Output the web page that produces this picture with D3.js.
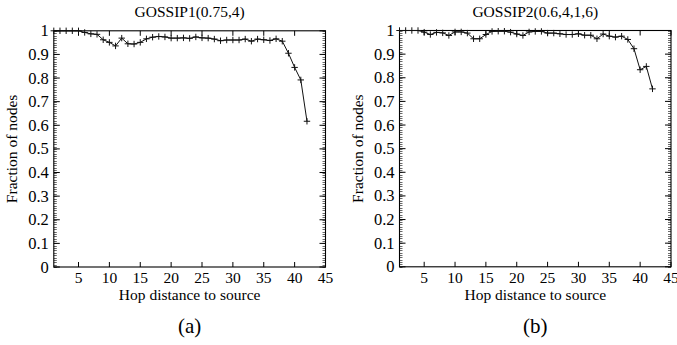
<!DOCTYPE html>
<html>
<head>
<meta charset="utf-8">
<script src="https://cdn.jsdelivr.net/npm/d3@7"></script>
<style>
  html, body { margin: 0; padding: 0; background: #fff; }
  svg { display: block; }
</style>
</head>
<body>
<svg id="chart" width="677" height="345" font-family="'Liberation Serif', 'Times New Roman', Times, serif"></svg>
<script>
// ---- data ----
const hops = [1,2,3,4,5,6,7,8,9,10,11,12,13,14,15,16,17,18,19,20,21,22,23,24,25,26,27,28,29,30,31,32,33,34,35,36,37,38,39,40,41,42];
const gossip1 = [1.0,1.0,1.0,1.0,1.0,0.993,0.987,0.985,0.962,0.951,0.936,0.969,0.945,0.944,0.951,0.966,0.973,0.976,0.974,0.969,0.969,0.970,0.968,0.974,0.970,0.969,0.965,0.958,0.961,0.961,0.961,0.965,0.956,0.965,0.962,0.959,0.966,0.956,0.905,0.845,0.792,0.617];
const gossip2 = [1.0,1.0,1.0,1.0,0.993,0.983,0.992,0.990,0.979,0.994,0.994,0.989,0.965,0.965,0.983,0.996,0.997,0.997,0.993,0.985,0.979,0.994,0.996,0.996,0.989,0.989,0.986,0.983,0.983,0.986,0.980,0.980,0.965,0.985,0.976,0.972,0.976,0.962,0.923,0.834,0.848,0.753];
const titles = ["GOSSIP1(0.75,4)", "GOSSIP2(0.6,4,1,6)"];
const captions = ["(a)", "(b)"];
const xTicks = [5,10,15,20,25,30,35,40,45];
const yTicks = [0,0.1,0.2,0.3,0.4,0.5,0.6,0.7,0.8,0.9,1];
const yTickLabels = ["0","0.1","0.2","0.3","0.4","0.5","0.6","0.7","0.8","0.9","1"];
const xLabel = "Hop distance to source";
const yLabel = "Fraction of nodes";

const FONT = "'Liberation Serif', 'Times New Roman', Times, serif";
const svg = d3.select("#chart");

const panels = [
  { series: gossip1, left: 53.8, right: 325.5, top: 30.8, bottom: 267, ylabX: 16.5, title: titles[0], cap: captions[0] },
  { series: gossip2, left: 399.5, right: 671, top: 30.5, bottom: 266.8, ylabX: 362.5, title: titles[1], cap: captions[1] }
];

const minorY = d3.range(0, 101).map(i => i / 100);

panels.forEach(p => {
  const x = d3.scaleLinear().domain([1, 45]).range([p.left, p.right]);
  const y = d3.scaleLinear().domain([0, 1]).range([p.bottom, p.top]);
  const g = svg.append("g");

  // minor y ticks (left and right, inward)
  g.append("g").selectAll("line").data(minorY).join("line")
    .attr("x1", p.left).attr("x2", p.left + 3)
    .attr("y1", d => Math.round(y(d)) + 0.5).attr("y2", d => Math.round(y(d)) + 0.5)
    .attr("stroke", "#444").attr("stroke-width", 0.8);
  g.append("g").selectAll("line").data(minorY).join("line")
    .attr("x1", p.right).attr("x2", p.right - 3)
    .attr("y1", d => Math.round(y(d)) + 0.5).attr("y2", d => Math.round(y(d)) + 0.5)
    .attr("stroke", "#444").attr("stroke-width", 0.8);

  // major y ticks
  g.append("g").selectAll("line").data(yTicks).join("line")
    .attr("x1", p.left).attr("x2", p.left + 6)
    .attr("y1", d => y(d)).attr("y2", d => y(d))
    .attr("stroke", "#000").attr("stroke-width", 1);
  g.append("g").selectAll("line").data(yTicks).join("line")
    .attr("x1", p.right).attr("x2", p.right - 6)
    .attr("y1", d => y(d)).attr("y2", d => y(d))
    .attr("stroke", "#000").attr("stroke-width", 1);

  // x ticks bottom and top
  g.append("g").selectAll("line").data(xTicks).join("line")
    .attr("x1", d => x(d)).attr("x2", d => x(d))
    .attr("y1", p.bottom).attr("y2", p.bottom - 5)
    .attr("stroke", "#000").attr("stroke-width", 1);
  g.append("g").selectAll("line").data(xTicks).join("line")
    .attr("x1", d => x(d)).attr("x2", d => x(d))
    .attr("y1", p.top).attr("y2", p.top + 5)
    .attr("stroke", "#000").attr("stroke-width", 1);

  // frame
  g.append("rect")
    .attr("x", p.left).attr("y", p.top)
    .attr("width", p.right - p.left).attr("height", p.bottom - p.top)
    .attr("fill", "none").attr("stroke", "#000").attr("stroke-width", 1.1);

  // tick labels
  g.append("g").selectAll("text").data(yTicks).join("text")
    .attr("font-family", FONT)
    .attr("x", p.left - 5).attr("y", d => y(d) + 5.5)
    .attr("text-anchor", "end").attr("font-size", 16.5)
    .text((d, i) => yTickLabels[i]);
  g.append("g").selectAll("text").data(xTicks).join("text")
    .attr("font-family", FONT)
    .attr("x", d => x(d)).attr("y", 283)
    .attr("text-anchor", "middle").attr("font-size", 15.5)
    .text(d => d);

  // axis labels
  g.append("text")
    .attr("font-family", FONT)
    .attr("x", (p.left + p.right) / 2).attr("y", 299.5)
    .attr("text-anchor", "middle").attr("font-size", 15.5)
    .text(xLabel);
  g.append("text")
    .attr("font-family", FONT)
    .attr("transform", `translate(${p.ylabX},${(p.top + p.bottom) / 2}) rotate(-90)`)
    .attr("text-anchor", "middle").attr("font-size", 15.5)
    .text(yLabel);

  // title
  g.append("text")
    .attr("font-family", FONT)
    .attr("x", (p.left + p.right) / 2).attr("y", 17)
    .attr("text-anchor", "middle").attr("font-size", 15.5)
    .text(p.title);

  // caption
  g.append("text")
    .attr("font-family", FONT)
    .attr("x", (p.left + p.right) / 2).attr("y", 333)
    .attr("text-anchor", "middle").attr("font-size", 21)
    .text(p.cap);

  // line
  const data = hops.map((h, i) => ({ h, v: p.series[i] }));
  g.append("path").datum(data)
    .attr("fill", "none").attr("stroke", "#111").attr("stroke-width", 1)
    .attr("d", d3.line().x(d => x(d.h)).y(d => y(d.v)));

  // + markers
  const s = 3.2;
  g.append("g").selectAll("path").data(data).join("path")
    .attr("fill", "none").attr("stroke", "#111").attr("stroke-width", 1)
    .attr("d", d => {
      const cx = x(d.h), cy = y(d.v);
      return `M${cx - s},${cy}H${cx + s}M${cx},${cy - s}V${cy + s}`;
    });
});
</script>
</body>
</html>
